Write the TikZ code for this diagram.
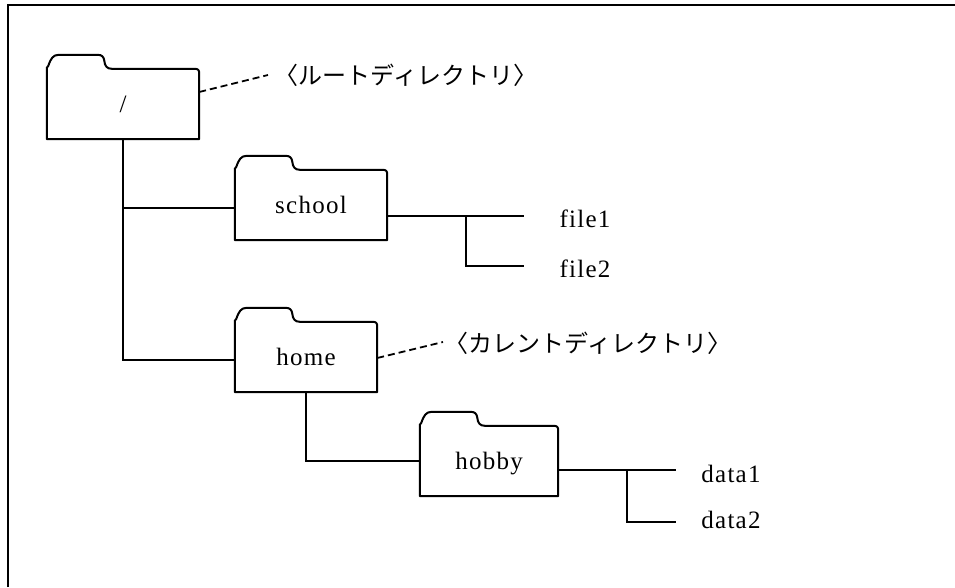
\documentclass[tikz,border=0pt]{standalone}
\usepackage{fontspec}
\newfontfamily\jp{Noto Sans CJK JP}
\newfontfamily\lat[LetterSpace=5]{Liberation Serif}
\usetikzlibrary{calc}
\tikzset{
  ln/.style={line width=2pt, line cap=butt},
  dashln/.style={line width=1.8pt, dash pattern=on 7pt off 4pt},
  folderbody/.style={rectangle, inner sep=0pt, minimum height=70pt,
    text height=17pt, text depth=0pt, font=\lat\fontsize{25}{25}\selectfont},
  filetext/.style={anchor=base, inner sep=0pt, font=\lat\fontsize{25}{25}\selectfont},
  jptext/.style={inner sep=0pt, font=\jp\fontsize{24}{24}\selectfont},
}
% folder outline drawn round the body node #1
\newcommand{\folderoutline}[1]{%
  \draw[ln, line join=round, shift={(#1.north west)}]
    (#1.south west) -- (0,0) -- (0,-1) -- (1.5,-3)
    .. controls (4,-10) and (6,-14) .. (12,-14) -- (51,-14)
    .. controls (55,-14) and (57,-12) .. (57.5,-8)
    .. controls (58,-3) and (60,0) .. (65,0)
    -- ([xshift=-5pt]#1.north east)
    .. controls ([xshift=-1pt]#1.north east) and ([yshift=-1pt]#1.north east) .. ([yshift=-5pt]#1.north east)
    -- (#1.south east) -- cycle;}
\begin{document}
\begin{tikzpicture}[x=1pt, y=-1pt]
\useasboundingbox (0,0) rectangle (955,587);
% frame
\coordinate (fa) at (8,587);
\coordinate (fb) at (8,5);
\coordinate (fc) at (955,5);
\draw[ln] (fa) -- (fb) -- (fc);

% folders
\node[folderbody, minimum width=152pt] (root) at (123,104) {/};
\node[folderbody, minimum width=152pt] (school) at (311,205) {school};
\node[folderbody, minimum width=142pt] (home) at (306,357) {home};
\node[folderbody, minimum width=138pt] (hobby) at (489,461) {hobby};
\folderoutline{root}
\folderoutline{school}
\folderoutline{home}
\folderoutline{hobby}

% labels
\node[jptext] (rootlbl) at (406,75) {〈ルートディレクトリ〉};
\node[jptext] (curlbl) at (588,343) {〈カレントディレクトリ〉};
\coordinate (d1) at (268,75);
\coordinate (d2) at (443,342);
\draw[dashln] ([yshift=12pt]root.east) -- (d1);
\draw[dashln] ([yshift=-1pt]home.east) -- (d2);

% tree connectors
\draw[ln] (root.south) |- ([yshift=-3pt]home.west);
\draw[ln] ([yshift=-3pt]school.west) -| (root.south);
\draw[ln] (home.south) |- (hobby.west);

% files of school
\coordinate (c1) at (524,216);
\coordinate (j1) at (466,216);
\coordinate (c2) at (524,266);
\draw[ln] ([yshift=-11pt]school.east) -- (c1);
\draw[ln] (j1) |- (c2);
\node[filetext] (file1) at (585,227) {file1};
\node[filetext] (file2) at (585,277) {file2};

% files of hobby
\coordinate (c3) at (676,470);
\coordinate (j2) at (627,470);
\coordinate (c4) at (676,522);
\draw[ln] ([yshift=-9pt]hobby.east) -- (c3);
\draw[ln] (j2) |- (c4);
\node[filetext] (data1) at (731,482) {data1};
\node[filetext] (data2) at (731,528) {data2};
\end{tikzpicture}
\end{document}
